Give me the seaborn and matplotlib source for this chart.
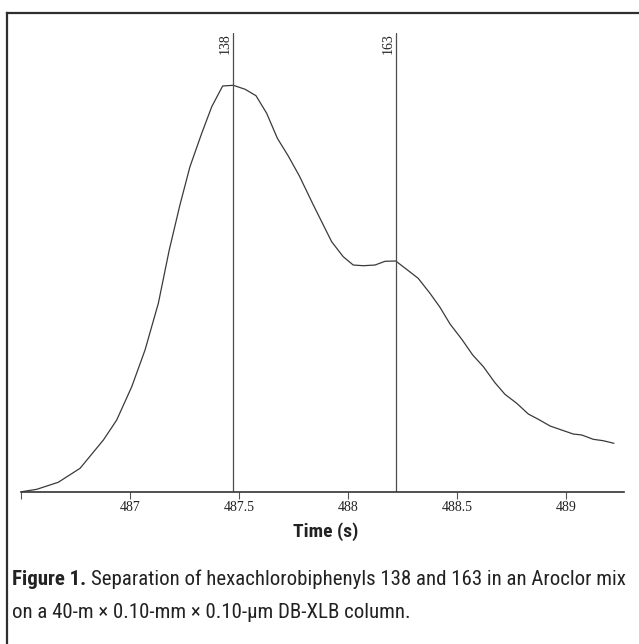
import matplotlib
matplotlib.use("Agg")
import matplotlib.pyplot as plt
import matplotlib.transforms as mtransforms
from matplotlib import font_manager
from matplotlib.font_manager import FontProperties
from matplotlib.lines import Line2D
import numpy as np
import pandas as pd
import seaborn as sns

# Detector trace over the elution window
time_s = [486.503, 486.572, 486.671, 486.771, 486.878, 486.939, 487.008, 487.069,
          487.130, 487.180, 487.229, 487.275, 487.329, 487.375, 487.425, 487.474,
          487.528, 487.578, 487.627, 487.676, 487.726, 487.777, 487.841, 487.925,
          487.978, 488.024, 488.070, 488.124, 488.170, 488.219, 488.277, 488.322,
          488.376, 488.422, 488.468, 488.522, 488.572, 488.621, 488.674, 488.720,
          488.774, 488.827, 488.873, 488.927, 488.980, 489.033, 489.072, 489.125,
          489.171, 489.220]
signal = [0.07, 0.66, 2.39, 5.83, 12.79, 17.70, 25.89, 34.92,
          46.40, 59.50, 70.57, 79.98, 88.20, 94.74, 99.83, 100.0,
          99.02, 97.44, 93.11, 86.97, 82.62, 77.70, 70.57, 61.54,
          57.86, 55.81, 55.64, 55.81, 56.73, 56.80, 54.41, 52.54,
          48.86, 45.41, 41.31, 37.55, 33.69, 30.81, 26.88, 24.02,
          21.81, 19.18, 17.88, 16.23, 15.24, 14.26, 14.02, 12.96,
          12.61, 11.97]

# Retention-time markers for the two congeners
peak_times = [487.474, 488.219]
peak_labels = ["138", "163"]

tick_values = [486.5, 487, 487.5, 488, 488.5, 489]
tick_labels = ["", "487", "487.5", "488", "488.5", "489"]
x_label = "Time (s)"

caption_bold = "Figure 1."
caption_line1 = "Separation of hexachlorobiphenyls 138 and 163 in an Aroclor mix"
caption_line2 = "on a 40-m \u00d7 0.10-mm \u00d7 0.10-\u00b5m DB-XLB column."

sns.set_theme(style="white")


def condensed_font():
    """Return (family, stretch) for the narrowest sans face on this system."""
    stretches = {}
    for f in font_manager.fontManager.ttflist:
        stretches.setdefault(f.name, set()).add(str(f.stretch))
    for name in ["Liberation Sans Narrow", "Roboto Condensed", "Open Sans Condensed",
                 "Noto Sans Condensed", "DejaVu Sans Condensed"]:
        if name in stretches:
            return name, "normal"
    for name in ["Roboto", "Noto Sans", "Open Sans", "DejaVu Sans", "Liberation Sans"]:
        if name in stretches and ("condensed" in stretches[name]
                                  or "semi-condensed" in stretches[name]):
            return name, "condensed"
    for name in ["Roboto", "Lato", "Liberation Sans"]:
        if name in stretches:
            return name, "normal"
    return "DejaVu Sans", "normal"


narrow, narrow_stretch = condensed_font()
serif = "Liberation Serif"
plt.rcParams["font.family"] = [narrow, "DejaVu Sans"]


def sans(size, weight="normal"):
    return FontProperties(family=[narrow, "DejaVu Sans"], stretch=narrow_stretch,
                          size=size, weight=weight)


W, H = 639, 644
fig = plt.figure(figsize=(W / 100, H / 100), dpi=100)
fig.patch.set_facecolor("white")

ax_left, ax_right, ax_bottom, ax_top = 21, 624, 492, 33
ax = fig.add_axes([ax_left / W, (H - ax_bottom) / H,
                   (ax_right - ax_left) / W, (ax_bottom - ax_top) / H])
ax.set_facecolor("white")

df = pd.DataFrame({"time": time_s, "signal": signal})
sns.lineplot(data=df, x="time", y="signal", ax=ax, color="#3a3a3a",
             linewidth=0.9, sort=False)

ax.set_xlim(486.5, 486.5 + (ax_right - ax_left) / 218.0)
ax.set_ylim(0, 100.0 * (ax_bottom - ax_top) / 406.7)

# Marker lines with rotated congener numbers
trans = mtransforms.blended_transform_factory(ax.transData, ax.transAxes)
label_trans = mtransforms.offset_copy(trans, fig=fig, x=-1.2, y=0, units="dots")
for t, lab in zip(peak_times, peak_labels):
    ax.axvline(t, color="#4d4d4d", linewidth=0.9)
    ax.text(t, 1.0, lab, transform=label_trans, rotation=90, ha="right",
            va="top", fontsize=10, family=serif, color="#222222")

for side in ["left", "top", "right"]:
    ax.spines[side].set_visible(False)
ax.spines["bottom"].set_color("#333333")
ax.spines["bottom"].set_linewidth(1.2)

ax.set_yticks([])
ax.set_xticks(tick_values)
ax.set_xticklabels(tick_labels, family=serif, fontsize=10, color="#222222")
ax.tick_params(axis="x", bottom=True, direction="out", length=5, width=0.8,
               color="#555555", pad=1.5)
ax.set_ylabel("")
ax.set_xlabel(x_label, fontproperties=sans(14, "bold"), color="#222222")
ax.xaxis.label.set_va("center")
ax.xaxis.set_label_coords((326 - ax_left) / (ax_right - ax_left),
                          (ax_bottom - 532) / (ax_bottom - ax_top))

# Outer frame: left and top rules
frame_kw = dict(transform=fig.transFigure, color="#2e2e2e", linewidth=1.6,
                solid_capstyle="projecting")
fig.add_artist(Line2D([6.5 / W, 6.5 / W], [0, (H - 12.5) / H], **frame_kw))
fig.add_artist(Line2D([6.5 / W, 1.0], [(H - 12.5) / H, (H - 12.5) / H], **frame_kw))

# Caption, sized so the first line spans the frame width
renderer = fig.canvas.get_renderer()


def width_of(s, size, weight="normal"):
    t = fig.text(0, 0, s, fontproperties=sans(size, weight))
    w = t.get_window_extent(renderer).width
    t.remove()
    return w


ref = 12.0
space_w = width_of("a a", ref) - width_of("aa", ref)
line1_w = width_of(caption_bold, ref, "bold") + space_w + width_of(caption_line1, ref)
cap_x0, cap_x1 = 12, 627
cap_size = ref * (cap_x1 - cap_x0) / line1_w

bold_w = width_of(caption_bold, cap_size, "bold")
sp = space_w * cap_size / ref
base1 = H - 585
base2 = H - 618
fig.text(cap_x0 / W, base1 / H, caption_bold, fontproperties=sans(cap_size, "bold"),
         va="baseline", color="#222222")
fig.text((cap_x0 + bold_w + sp) / W, base1 / H, caption_line1,
         fontproperties=sans(cap_size), va="baseline", color="#222222")
fig.text(cap_x0 / W, base2 / H, caption_line2, fontproperties=sans(cap_size),
         va="baseline", color="#222222")

fig.savefig("out.png", dpi=100, facecolor="white")
